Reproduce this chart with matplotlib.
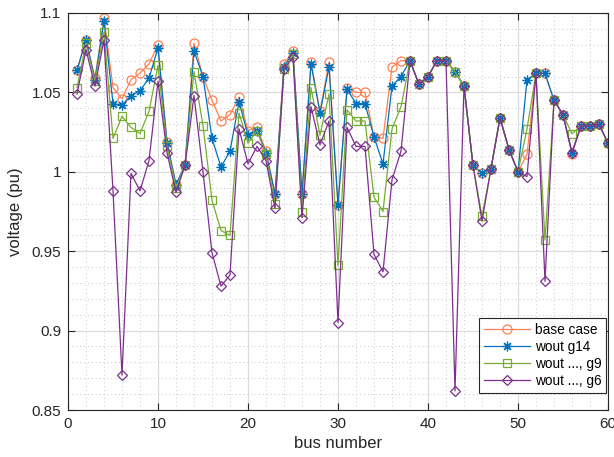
import matplotlib
matplotlib.use("Agg")
import matplotlib.pyplot as plt
from matplotlib.ticker import MultipleLocator, FixedLocator, FixedFormatter

plt.rcParams['font.family'] = ['Liberation Sans', 'DejaVu Sans']

bus = list(range(1, 61))

base_case = [1.064, 1.083, 1.059, 1.097, 1.053, 1.046, 1.058, 1.062, 1.068, 1.080,
             1.019, 0.992, 1.004, 1.081, 1.060, 1.045, 1.032, 1.036, 1.047, 1.026,
             1.028, 1.013, 0.986, 1.068, 1.076, 0.986, 1.069, 1.038, 1.069, 0.979,
             1.053, 1.050, 1.050, 1.022, 1.021, 1.066, 1.070, 1.070, 1.055, 1.060,
             1.070, 1.070, 1.063, 1.054, 1.004, 0.999, 1.002, 1.034, 1.014, 1.000,
             1.011, 1.062, 1.062, 1.045, 1.036, 1.011, 1.029, 1.029, 1.030, 1.018]

wout_g14 = [1.064, 1.083, 1.058, 1.095, 1.043, 1.042, 1.048, 1.051, 1.059, 1.078,
            1.018, 0.992, 1.004, 1.076, 1.060, 1.021, 1.003, 1.013, 1.044, 1.023,
            1.026, 1.012, 0.986, 1.066, 1.075, 0.986, 1.068, 1.037, 1.066, 0.979,
            1.052, 1.043, 1.043, 1.022, 1.005, 1.054, 1.060, 1.070, 1.055, 1.060,
            1.070, 1.070, 1.063, 1.054, 1.004, 0.999, 1.002, 1.034, 1.014, 1.000,
            1.058, 1.062, 1.062, 1.045, 1.036, 1.012, 1.029, 1.029, 1.030, 1.018]

wout_g9 = [1.053, 1.081, 1.057, 1.088, 1.021, 1.035, 1.028, 1.024, 1.038, 1.067,
           1.016, 0.990, 1.004, 1.063, 1.029, 0.982, 0.963, 0.960, 1.037, 1.018,
           1.026, 1.011, 0.980, 1.065, 1.074, 0.975, 1.053, 1.023, 1.049, 0.941,
           1.039, 1.032, 1.032, 0.984, 0.975, 1.027, 1.041, 1.070, 1.055, 1.060,
           1.070, 1.070, 1.063, 1.054, 1.004, 0.972, 1.002, 1.034, 1.014, 1.000,
           1.027, 1.062, 0.957, 1.045, 1.036, 1.024, 1.029, 1.029, 1.030, 1.018]

wout_g6 = [1.049, 1.077, 1.054, 1.083, 0.988, 0.872, 0.999, 0.988, 1.007, 1.057,
           1.012, 0.987, 1.004, 1.048, 1.000, 0.949, 0.928, 0.935, 1.027, 1.005,
           1.016, 1.007, 0.977, 1.065, 1.072, 0.971, 1.041, 1.017, 1.032, 0.905,
           1.028, 1.016, 1.016, 0.948, 0.937, 0.995, 1.013, 1.070, 1.055, 1.060,
           1.070, 1.070, 0.862, 1.054, 1.004, 0.969, 1.002, 1.034, 1.014, 1.000,
           0.997, 1.062, 0.931, 1.045, 1.036, 1.012, 1.029, 1.029, 1.030, 1.018]

series_labels = ['base case', 'wout g14', 'wout ..., g9', 'wout ..., g6']
y_ticks = [0.85, 0.9, 0.95, 1.0, 1.05, 1.1]
y_tick_labels = ['0.85', '0.9', '0.95', '1', '1.05', '1.1']
x_ticks = [0, 10, 20, 30, 40, 50, 60]

fig = plt.figure(figsize=(6.14, 4.57), dpi=100)
ax = fig.add_axes([68/614, 1 - 410/457, 540/614, 397/457])

styles = [
    dict(color='#FF7F50', marker='o', ms=6.5),
    dict(color='#0072BD', marker=(8, 2, 0), ms=7),
    dict(color='#77AC30', marker='s', ms=5.5),
    dict(color='#7E2F8E', marker='D', ms=5.5),
]
for data, lab, st in zip([base_case, wout_g14, wout_g9, wout_g6], series_labels, styles):
    ax.plot(bus, data, color=st['color'], lw=0.9, marker=st['marker'], ms=st['ms'],
            mfc='none', mec=st['color'], mew=0.9, label=lab)

ax.set_xlim(0, 60)
ax.set_ylim(0.85, 1.1)
ax.xaxis.set_major_locator(FixedLocator(x_ticks))
ax.xaxis.set_minor_locator(MultipleLocator(2))
ax.yaxis.set_major_locator(FixedLocator(y_ticks))
ax.yaxis.set_major_formatter(FixedFormatter(y_tick_labels))
ax.yaxis.set_minor_locator(MultipleLocator(0.01))

ax.grid(which='major', color='#dcdcdc', lw=0.9, ls='-')
ax.grid(which='minor', color='#c8c8c8', lw=0.7, ls=(0, (1, 3)))
ax.set_axisbelow(True)

ax.tick_params(which='major', direction='in', length=5, width=0.8, top=True, right=True,
               labelsize=11, colors='#262626', pad=5)
ax.tick_params(which='minor', length=0, top=True, right=True)
for s in ax.spines.values():
    s.set_color('#262626')
    s.set_linewidth(0.8)

ax.set_xlabel('bus number', fontsize=12, color='#262626', labelpad=4)
ax.set_ylabel('voltage (pu)', fontsize=12, color='#262626', labelpad=6)

leg = ax.legend(loc='lower right', bbox_to_anchor=(606/614, 1 - 393/457),
                bbox_transform=fig.transFigure, fontsize=9.8, frameon=True, fancybox=False,
                edgecolor='#262626', framealpha=1, handlelength=3.4, borderpad=0.35,
                labelspacing=0.22, handletextpad=0.35, borderaxespad=0)
leg.get_frame().set_linewidth(0.8)

fig.savefig('out.png', dpi=100)
